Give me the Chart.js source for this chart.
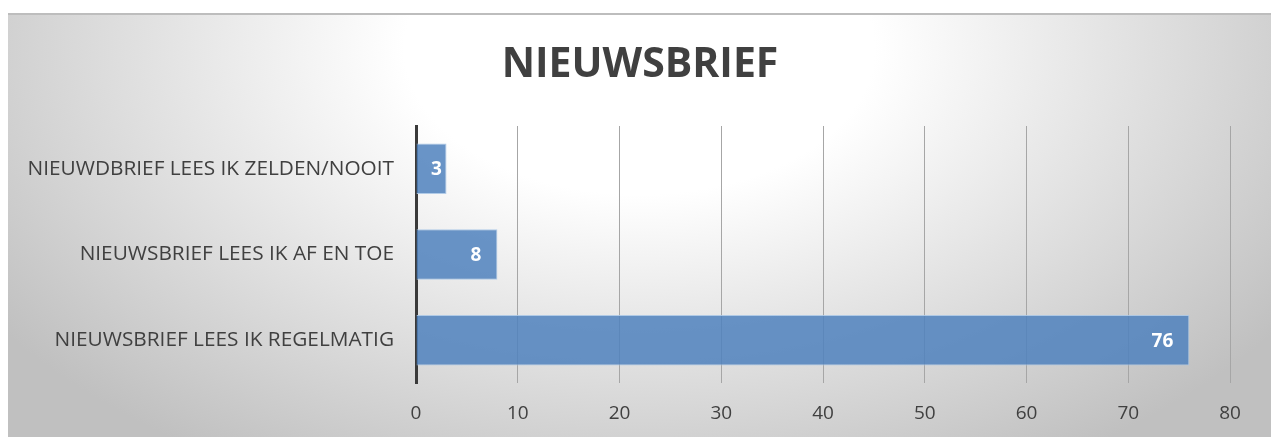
<!DOCTYPE html>
<html>
<head>
<meta charset="utf-8">
<script src="https://cdn.jsdelivr.net/npm/chart.js@4/dist/chart.umd.min.js"></script>
<style>
  html, body { margin: 0; padding: 0; background: #fff; }
  #frame {
    position: absolute; left: 8px; top: 13px; width: 1263px; height: 424px;
    border-top: 2px solid #bdbdbd; box-sizing: border-box;
    background: radial-gradient(ellipse 62% 115% at 50% 8%, #ffffff 30%, #e2e2e2 62%, #c0c0c0 100%);
  }
</style>
</head>
<body>
<div id="frame"><canvas id="myChart"></canvas></div>
<script>
// chart data
const categories = ["NIEUWDBRIEF LEES IK ZELDEN/NOOIT", "NIEUWSBRIEF LEES IK AF EN TOE", "NIEUWSBRIEF LEES IK REGELMATIG"];
const values = [3, 8, 76];
const xTicks = [0, 10, 20, 30, 40, 50, 60, 70, 80];
const chartTitle = 'NIEUWSBRIEF';

// title + white bold numbers inside the bar end
const barLabels = {
  id: 'barLabels',
  afterDatasetsDraw(chart) {
    const ctx = chart.ctx;
    const meta = chart.getDatasetMeta(0);
    const base = chart.scales.x.getPixelForValue(0);
    ctx.save();
    ctx.fillStyle = '#404040';
    ctx.font = 'bold 41px "Open Sans"';
    ctx.textAlign = 'center';
    ctx.textBaseline = 'middle';
    ctx.fillText(chartTitle, 632, 50);

    ctx.fillStyle = '#ffffff';
    ctx.font = 'bold 19px "Open Sans"';
    ctx.textAlign = 'left';
    meta.data.forEach((bar, i) => {
      const txt = String(values[i]);
      const w = ctx.measureText(txt).width;
      const left = Math.max(bar.x - 16 - w, base + 15);
      ctx.fillText(txt, left, bar.y + 1);
    });
    ctx.restore();
  }
};

var cnv = document.getElementById('myChart');
cnv.width = 1263; cnv.height = 422;
var ctx = cnv.getContext('2d');
var myChart = new Chart(ctx, {
  type: 'bar',
  data: {
    labels: categories,
    datasets: [{
      data: values,
      backgroundColor: 'rgba(79,129,189,0.85)',
      borderColor: 'rgba(170,198,230,0.9)',
      borderWidth: 1,
      categoryPercentage: 0.59,
      barPercentage: 1
    }]
  },
  options: {
    indexAxis: 'y',
    responsive: false,
    animation: false,
    layout: { padding: { left: 0, right: 41, top: 111, bottom: 0 } },
    plugins: {
      legend: { display: false },
      tooltip: { enabled: false },
      title: { display: false }
    },
    scales: {
      x: {
        min: 0, max: 80,
        afterBuildTicks: s => { s.ticks = xTicks.map(v => ({ value: v })); },
        afterFit: s => { s.height = 54; },
        grid: { color: '#a6a6a6', lineWidth: 1, drawTicks: false },
        border: { display: false },
        ticks: { color: '#404040', padding: 19, font: { family: '"Open Sans"', size: 19 } }
      },
      y: {
        afterFit: s => { s.width = 408; },
        grid: { display: false, drawTicks: false },
        border: { display: true, color: '#3a3a3a', width: 3 },
        ticks: { color: '#404040', padding: 22, font: { family: '"Open Sans"', size: 20.8 } }
      }
    }
  },
  plugins: [barLabels]
});
</script>
</body>
</html>
